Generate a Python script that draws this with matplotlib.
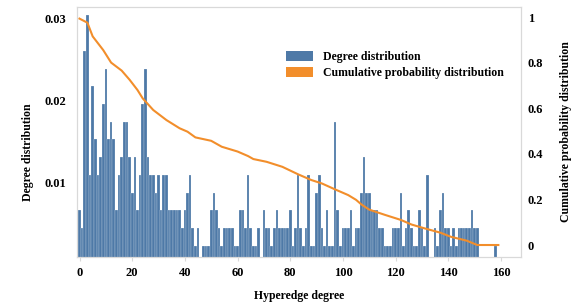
import matplotlib
matplotlib.use("Agg")
import matplotlib.pyplot as plt
from matplotlib.patches import Patch
import numpy as np

# ---- data ----
degrees = list(range(0, 159))
counts = [3, 2, 12, 14, 5, 10, 7, 5, 6, 9, 11, 7, 8, 7, 3, 5, 6, 8, 8, 6,   # 0-19
          4, 6, 3, 5, 9, 11, 6, 5, 5, 4,                                    # 20-29
          5, 3, 5, 5, 3, 3, 3, 3, 3, 2,                                     # 30-39
          3, 4, 5, 2, 1, 2, 0, 1, 1, 1,                                     # 40-49
          3, 4, 3, 2, 1, 2, 2, 2, 2, 1,                                     # 50-59
          1, 3, 3, 2, 5, 2, 1, 1, 2, 0,                                     # 60-69
          3, 2, 2, 1, 2, 3, 2, 2, 2, 2,                                     # 70-79
          3, 1, 2, 5, 2, 1, 2, 5, 1, 1,                                     # 80-89
          4, 5, 2, 1, 3, 1, 1, 8, 3, 1,                                     # 90-99
          2, 2, 2, 3, 1, 2, 2, 4, 6, 4,                                     # 100-109
          4, 3, 3, 3, 2, 2, 1, 1, 1, 2,                                     # 110-119
          2, 2, 4, 1, 2, 3, 2, 1, 1, 3,                                     # 120-129
          2, 1, 5, 0, 0, 2, 1, 3, 4, 2,                                     # 130-139
          2, 1, 2, 1, 2, 2, 2, 2, 2, 3,                                     # 140-149
          2, 2, 0, 0, 0, 0, 0, 0, 1]                                        # 150-158
total_edges = 460
degree_prob = [c / total_edges for c in counts]

cum_deg = [0, 3, 5, 9, 12, 16, 19, 22, 24, 28, 33, 38, 41, 44, 50, 54, 60, 64,
           66, 71, 77, 83, 88, 92, 97, 102, 105, 107, 110, 116, 122, 126, 131,
           137, 141, 147, 151, 159]
cum_val = [0.993, 0.975, 0.915, 0.855, 0.80, 0.765, 0.725, 0.68, 0.643, 0.592,
           0.548, 0.512, 0.497, 0.472, 0.457, 0.431, 0.41, 0.39, 0.377, 0.365,
           0.343, 0.31, 0.285, 0.27, 0.244, 0.219, 0.198, 0.178, 0.155, 0.132,
           0.11, 0.09, 0.073, 0.054, 0.036, 0.019, 0.0, 0.0]

x_ticks = [0, 20, 40, 60, 80, 100, 120, 140, 160]
left_ticks = [0.01, 0.02, 0.03]
left_labels = ["0.01", "0.02", "0.03"]
right_ticks = [0, 0.2, 0.4, 0.6, 0.8, 1.0]
right_labels = ["0", "0.2", "0.4", "0.6", "0.8", "1"]

BLUE = "#4E79A7"
ORANGE = "#F28E2B"
GRID = "#d9d9d9"

plt.rcParams['font.family'] = ['Liberation Serif', 'DejaVu Serif']
plt.rcParams['font.weight'] = 'bold'

fig = plt.figure(figsize=(5.87, 3.07), dpi=100)
ax = fig.add_axes([77/587, 50/307, 444/587, 250/307])

ax.bar(degrees, degree_prob, width=1.0, color=BLUE, edgecolor="white",
       linewidth=0.15, zorder=2)
ax.set_xlim(-0.95, 167.6)
ax.set_ylim(0.0008, 0.03147)
ax.set_xticks(x_ticks)
ax.set_xticklabels([str(t) for t in x_ticks])
ax.set_yticks(left_ticks)
ax.set_yticklabels(left_labels)

ax2 = ax.twinx()
ax2.plot(cum_deg, cum_val, color=ORANGE, linewidth=1.5, zorder=3)
ax2.set_ylim(-0.0526, 1.0439)
ax2.set_yticks(right_ticks)
ax2.set_yticklabels(right_labels)

for a in (ax, ax2):
    for s in a.spines.values():
        s.set_color(GRID)
        s.set_linewidth(0.8)

ax.tick_params(axis='x', length=3, color=GRID, pad=4, labelsize=9)
ax.tick_params(axis='y', length=0, pad=8, labelsize=9)
ax2.tick_params(axis='y', length=0, pad=5, labelsize=9)

for lbl in ax.get_xticklabels() + ax.get_yticklabels() + ax2.get_yticklabels():
    lbl.set_fontweight('bold')

ax.set_xlabel("Hyperedge degree", fontsize=8.5, fontweight='bold', labelpad=8)
fig.text(28/587, 1 - 152/307, "Degree distribution", rotation=90,
         ha='center', va='center', fontsize=8.5, fontweight='bold')
fig.text(566/587, 1 - 132/307, "Cumulative probability distribution", rotation=90,
         ha='center', va='center', fontsize=8.5, fontweight='bold')

handles = [Patch(facecolor=BLUE, edgecolor='none'),
           Patch(facecolor=ORANGE, edgecolor='none')]
fig.legend(handles, ["Degree distribution", "Cumulative probability distribution"],
           loc='upper left', bbox_to_anchor=(286/587, 1 - 51/307),
           frameon=False, prop={'weight': 'bold', 'size': 8.5},
           handlelength=2.3, handleheight=0.85, handletextpad=0.8,
           labelspacing=0.35, borderpad=0, borderaxespad=0)

fig.savefig("out.png", dpi=100)
